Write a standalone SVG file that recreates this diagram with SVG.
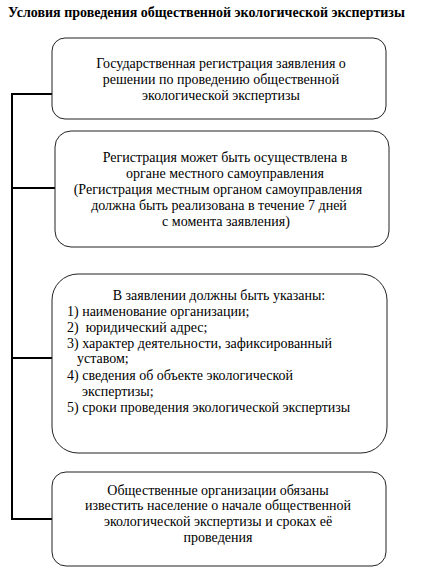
<svg xmlns="http://www.w3.org/2000/svg" width="428" height="578" viewBox="0 0 428 578">
<style>
text{font-family:'Liberation Serif','Times New Roman',serif;font-size:14px;fill:#000}
.t{font-weight:bold}
.c{text-anchor:middle}
.box{fill:#fff;stroke:#222;stroke-width:1}
.ln{stroke:#000;stroke-width:2;fill:none}
</style>
<rect width="428" height="578" fill="#fff"/>
<text class="t" x="8" y="17">Условия проведения общественной экологической экспертизы</text>
<g id="connectors">
<path class="ln" d="M12 94V520"/>
<path class="ln" d="M11 94H52M12 188H55M12 358H52M11 519H52"/>
</g>
<g id="n1">
<rect class="box" x="52" y="38" width="334" height="81" rx="13"/>
<text class="c" x="221" y="68">Государственная регистрация заявления о</text>
<text class="c" x="221" y="84">решении по проведению общественной</text>
<text class="c" x="221" y="100">экологической экспертизы</text>
</g>
<g id="n2">
<rect class="box" x="55" y="131" width="334" height="116" rx="16"/>
<text class="c" x="225" y="162">Регистрация может быть осуществлена в</text>
<text class="c" x="225" y="178">органе местного самоуправления</text>
<text class="c" x="218" y="194">(Регистрация местным органом самоуправления</text>
<text class="c" x="219" y="210">должна быть реализована в течение 7 дней</text>
<text class="c" x="226" y="226">с момента заявления)</text>
</g>
<g id="n3">
<rect class="box" x="52" y="274" width="335" height="179" rx="26"/>
<text class="c" x="219" y="300">В заявлении должны быть указаны:</text>
<text x="67" y="316">1) наименование организации;</text>
<text x="67" y="332">2)&#160; юридический адрес;</text>
<text x="67" y="348">3) характер деятельности, зафиксированный</text>
<text x="77" y="363">уставом;</text>
<text x="67" y="380">4) сведения об объекте экологической</text>
<text x="82" y="396">экспертизы;</text>
<text x="67" y="412">5) сроки проведения экологической экспертизы</text>
</g>
<g id="n4">
<rect class="box" x="52" y="472" width="334" height="94" rx="14"/>
<text class="c" x="218" y="495">Общественные организации обязаны</text>
<text class="c" x="218" y="510">известить население о начале общественной</text>
<text class="c" x="218" y="526">экологической экспертизы и сроках её</text>
<text class="c" x="218" y="542">проведения</text>
</g>
</svg>
